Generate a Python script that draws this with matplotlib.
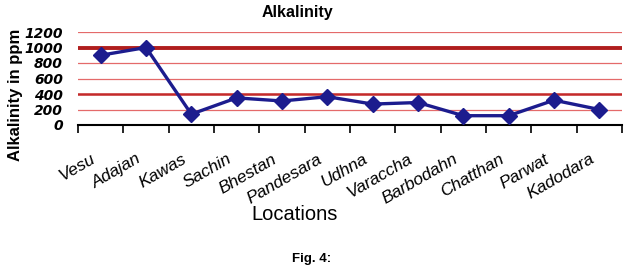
import matplotlib.pyplot as plt
from matplotlib.transforms import ScaledTranslation

locations = ['Vesu', 'Adajan', 'Kawas', 'Sachin', 'Bhestan', 'Pandesara', 'Udhna',
             'Varaccha', 'Barbodahn', 'Chatthan', 'Parwat', 'Kadodara']
alkalinity = [900, 1000, 140, 350, 310, 365, 270, 290, 120, 120, 320, 200]
yticks = [0, 200, 400, 600, 800, 1000, 1200]
limits = [400, 1000]

plt.rcParams['font.family'] = ['Liberation Sans', 'DejaVu Sans']

fig = plt.figure(figsize=(6.3, 2.71), dpi=100)
ax = fig.add_axes([78 / 630, 1 - 125 / 271, 544 / 630, 93 / 271])

x = list(range(len(locations)))

# grid lines (thin) and limit lines (thick)
for y in yticks[1:]:
    ax.axhline(y, color='#e46a6a', lw=0.9, zorder=1)
ax.axhline(limits[0], color='#c42a2a', lw=1.8, zorder=1)
ax.axhline(limits[1], color='#b01e1e', lw=2.8, zorder=1)

ax.plot(x, alkalinity, color='#1c1c8e', lw=2.4, marker='D', markersize=8.5,
        markerfacecolor='#1c1c8e', markeredgecolor='#1c1c8e', zorder=3)

ax.set_xlim(-0.5, len(locations) - 0.5)
ax.set_ylim(0, 1200)
ax.set_yticks(yticks)
ax.set_yticklabels([str(v) for v in yticks], fontsize=10, fontweight='bold',
                   style='italic', family='DejaVu Sans')
ax.tick_params(axis='y', length=0, pad=11)

for s in ['top', 'right', 'left']:
    ax.spines[s].set_visible(False)
ax.spines['bottom'].set_linewidth(1.5)

# tick marks between categories, labels at categories
ax.set_xticks([i - 0.5 for i in range(len(locations) + 1)], minor=True)
ax.tick_params(axis='x', which='minor', length=6, width=1.2, direction='out')
ax.set_xticks(x)
ax.set_xticklabels(locations, rotation=30, ha='right', va='top',
                   rotation_mode='anchor', fontsize=12.5, style='italic')
ax.tick_params(axis='x', which='major', length=0, pad=19)
offset = ScaledTranslation(-10 / 100, 0, fig.dpi_scale_trans)
for lab in ax.get_xticklabels():
    lab.set_transform(lab.get_transform() + offset)

fig.text(297 / 630, 1 - 12 / 271, 'Alkalinity', ha='center', va='center',
         fontsize=11.5, fontweight='bold')
fig.text(16 / 630, 1 - 95 / 271, 'Alkalinity in ppm', ha='center', va='center',
         rotation=90, fontsize=12, fontweight='bold')
fig.text(295 / 630, 1 - 214 / 271, 'Locations', ha='center', va='center', fontsize=14.5)
fig.text(312 / 630, 1 - 259 / 271, 'Fig. 4:', ha='center', va='center',
         fontsize=9.5, fontweight='bold')

fig.savefig('out.png', dpi=100)
